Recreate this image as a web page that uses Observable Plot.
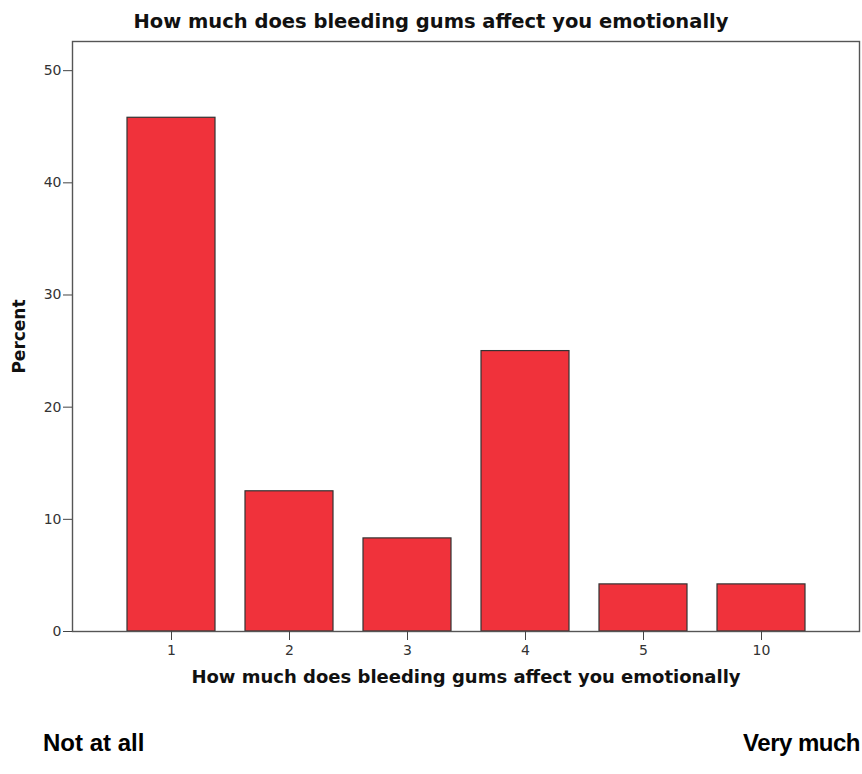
<!DOCTYPE html>
<html>
<head>
<meta charset="utf-8">
<script src="https://cdn.jsdelivr.net/npm/d3@7"></script>
<script src="https://cdn.jsdelivr.net/npm/@observablehq/plot@0.6"></script>
<style>
  html, body { margin: 0; padding: 0; background: #fff; }
  #wrap { position: relative; width: 862px; height: 774px; overflow: hidden; }
  #wrap svg { position: absolute; left: 0; top: 0; }
  .title { position: absolute; left: 0; width: 862px; top: 10px; text-align: center; line-height: 24px;
           font: bold 19.5px "DejaVu Sans", sans-serif; color: #111; }
  .end { position: absolute; top: 729px; line-height: 28px; font: bold 24px "Liberation Sans", Arial, sans-serif; color: #000; }
</style>
</head>
<body>
<div id="wrap"></div>
<script>
const categories = ["1", "2", "3", "4", "5", "10"];
const percents = [45.8, 12.5, 8.3, 25.0, 4.2, 4.2];
const yTicks = [0, 10, 20, 30, 40, 50];
const titleText = "How much does bleeding gums affect you emotionally";
const xLabel = "How much does bleeding gums affect you emotionally";
const yLabel = "Percent";
const lowLabel = "Not at all";
const highLabel = "Very much";

const data = categories.map((c, i) => ({cat: c, pct: percents[i]}));

const chart = Plot.plot({
  width: 862,
  height: 774,
  marginTop: 41,
  marginBottom: 143,
  marginLeft: 72,
  marginRight: 3,
  style: {fontFamily: "DejaVu Sans, sans-serif", background: "#fff"},
  x: {type: "band", domain: categories, paddingInner: 0.256, paddingOuter: 0.454},
  y: {domain: [0, 52.6]},
  marks: [
    Plot.barY(data, {x: "cat", y: "pct", fill: "#f0323b", stroke: "#333", strokeWidth: 1.2}),
    Plot.frame({stroke: "#555", strokeWidth: 1.4}),
    Plot.axisY({ticks: yTicks, tickSize: 9, tickPadding: 2, fontSize: 14, fill: "#333", stroke: "#444", label: null}),
    Plot.axisX({tickSize: 9, tickPadding: 5, fontSize: 14, fill: "#333", stroke: "#444", label: null}),
    Plot.text([xLabel], {frameAnchor: "bottom", dy: 51, fontSize: 18, fontWeight: "bold", fill: "#111"}),
    Plot.text([yLabel], {frameAnchor: "left", dx: -53, rotate: -90, textAnchor: "middle", fontSize: 17, fontWeight: "bold", fill: "#111"})
  ]
});

const wrap = document.getElementById("wrap");
wrap.appendChild(chart);
const t = document.createElement("div");
t.className = "title"; t.textContent = titleText;
wrap.appendChild(t);
const lo = document.createElement("div");
lo.className = "end"; lo.style.left = "43px"; lo.textContent = lowLabel;
wrap.appendChild(lo);
const hi = document.createElement("div");
hi.className = "end"; hi.style.right = "2px"; hi.style.letterSpacing = "-0.5px"; hi.textContent = highLabel;
wrap.appendChild(hi);
</script>
</body>
</html>
